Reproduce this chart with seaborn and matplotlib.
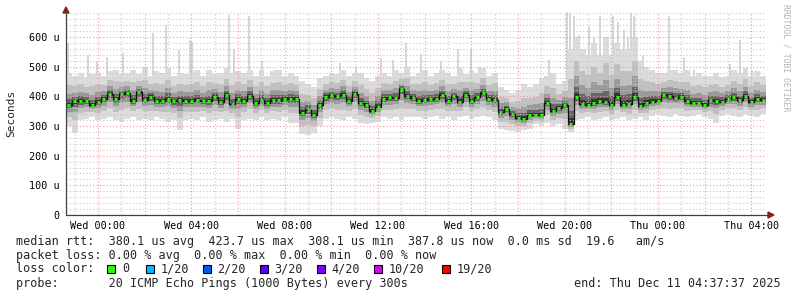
import numpy as np
import pandas as pd
import matplotlib
matplotlib.use("Agg")
import matplotlib.pyplot as plt
from matplotlib.patches import Rectangle, Polygon
from matplotlib.lines import Line2D
import seaborn as sns

# ---------------- data (hours relative to Wed 00:00, 15-min steps) ----------------
START_H = -1.373   # Tue 22:37:37
END_H = 28.627     # Thu 04:37:37
STEP_H = 0.25

median_us = [
    372, 383, 383, 383, 370, 380, 391, 408, 391, 408,
    411, 385, 414, 389, 398, 383, 383, 392, 383, 386,
    385, 383, 388, 383, 384, 398, 380, 403, 374, 390,
    384, 402, 378, 388, 378, 386, 386, 391, 392, 392,
    345, 355, 338, 370, 398, 403, 400, 406, 385, 408,
    378, 370, 350, 365, 392, 396, 395, 424, 402, 395,
    385, 388, 390, 392, 405, 385, 400, 382, 405, 385,
    396, 410, 392, 388, 348, 358, 340, 328, 324, 338,
    338, 336, 378, 352, 360, 370, 308, 398, 375, 372,
    378, 383, 380, 372, 398, 372, 375, 398, 368, 378,
    382, 385, 403, 400, 395, 398, 385, 378, 378, 370,
    386, 384, 382, 390, 396, 386, 400, 380, 390, 388,
]
low_us = [
    300, 276, 320, 325, 330, 320, 325, 330, 320, 315,
    325, 330, 320, 325, 320, 330, 325, 315, 320, 285,
    320, 325, 320, 330, 315, 320, 325, 315, 325, 289,
    320, 325, 320, 330, 320, 325, 320, 330, 310, 310,
    272, 270, 275, 300, 325, 330, 325, 320, 330, 325,
    310, 305, 311, 315, 330, 325, 330, 320, 330, 330,
    330, 325, 330, 335, 325, 330, 320, 330, 335, 325,
    330, 335, 330, 320, 290, 285, 283, 280, 285, 290,
    305, 300, 310, 300, 305, 290, 278, 320, 325, 330,
    320, 325, 330, 320, 325, 330, 320, 325, 330, 320,
    335, 340, 335, 330, 340, 335, 330, 335, 340, 330,
    325, 311, 335, 340, 335, 330, 340, 335, 330, 340,
]
high_us = [
    480, 470, 480, 465, 475, 480, 470, 485, 490, 475,
    480, 490, 475, 500, 470, 485, 480, 495, 470, 480,
    475, 480, 490, 470, 490, 475, 480, 495, 480, 485,
    480, 490, 470, 490, 470, 485, 489, 470, 480, 470,
    450, 440, 430, 460, 470, 480, 475, 490, 470, 480,
    480, 460, 450, 470, 480, 470, 490, 480, 500, 470,
    480, 490, 470, 480, 490, 480, 470, 495, 475, 490,
    480, 495, 470, 480, 430, 420, 410, 420, 440, 430,
    440, 460, 470, 480, 440, 450, 560, 600, 560, 540,
    580, 540, 600, 540, 580, 560, 560, 600, 520, 500,
    490, 480, 480, 490, 490, 480, 490, 470, 480, 470,
    470, 480, 465, 470, 490, 480, 495, 470, 485, 470,
]
spike_hours = [
    -1.29, -0.43, -0.04, 0.39, 1.07, 2.36, 2.91, 3.47, 3.94, 4.03,
    5.62, 5.83, 6.47, 7.03, 7.59, 10.37, 10.89, 11.06, 12.13, 12.64,
    13.20, 13.84, 14.70, 15.43, 15.99, 16.33, 19.33, 20.10, 20.23, 20.40,
    20.62, 20.87, 21.05, 21.26, 21.52, 21.82, 22.07, 22.29, 22.55, 22.72,
    22.85, 22.98, 23.06, 23.36, 24.47, 25.11, 25.54, 27.09, 27.52, 28.03,
]
spike_top_us = [
    579, 540, 515, 532, 545, 612, 640, 555, 589, 583,
    673, 561, 672, 520, 489, 511, 460, 500, 530, 522,
    578, 544, 520, 561, 561, 500, 522, 685, 680, 672,
    605, 560, 633, 600, 672, 560, 672, 650, 622, 600,
    680, 672, 561, 540, 672, 528, 489, 510, 589, 489,
]

xtick_hours = [0, 4, 8, 12, 16, 20, 24, 28]
xtick_labels = ["Wed 00:00", "Wed 04:00", "Wed 08:00", "Wed 12:00",
                "Wed 16:00", "Wed 20:00", "Thu 00:00", "Thu 04:00"]
ytick_values = [0, 100, 200, 300, 400, 500, 600]
ytick_labels = ["0", "100 u", "200 u", "300 u", "400 u", "500 u", "600 u"]
y_top_us = 684

loss_labels = ["0", "1/20", "2/20", "3/20", "4/20", "10/20", "19/20"]
loss_colors = ["#26ff00", "#00b8ff", "#0059ff", "#5e00ff", "#7e00ff", "#dd00ff", "#ff0000"]

line_median = "median rtt:  380.1 us avg  423.7 us max  308.1 us min  387.8 us now  0.0 ms sd  19.6   am/s"
line_loss = "packet loss: 0.00 % avg  0.00 % max  0.00 % min  0.00 % now"
line_color_head = "loss color:"
line_probe = "probe:       20 ICMP Echo Pings (1000 Bytes) every 300s"
line_end = "end: Thu Dec 11 04:37:37 2025"
y_title = "Seconds"
watermark = "RRDTOOL / TOBI OETIKER"

# ---------------- figure ----------------
W, H = 797, 297
sns.set_theme(style="white")
plt.rcParams["font.family"] = ["DejaVu Sans Mono", "DejaVu Sans"]

fig = plt.figure(figsize=(W / 100, H / 100), dpi=100)
fig.patch.set_facecolor("white")

def P(x, y):
    return (x / W, 1 - y / H)

AX_L, AX_R, AX_B, AX_T = 66, 766, 215, 12
ax = fig.add_axes([AX_L / W, 1 - AX_B / H, (AX_R - AX_L) / W, (AX_B - AX_T) / H])
ax.set_facecolor("white")

n = len(median_us)
t_center = START_H + (np.arange(n) + 0.5) * STEP_H
t_edges = START_H + np.arange(n + 1) * STEP_H
df = pd.DataFrame({"t": t_center, "median": median_us, "low": low_us, "high": high_us})

med = np.asarray(median_us, float)
lo = np.asarray(low_us, float)
hi = np.asarray(high_us, float)

# thin outlier spikes
med_at_spike = np.interp(spike_hours, t_center, med)
ax.vlines(spike_hours, med_at_spike, spike_top_us, colors="#d6d6d6", lw=1.4, zorder=0.9)

# smoke bands
bands = [(1.0, "#dcdcdc"), (0.6, "#c0c0c0"), (0.34, "#9a9a9a"), (0.17, "#666666"), (0.07, "#343434")]
for f, c in bands:
    lower = med - (med - lo) * f
    upper = med + (hi - med) * f
    ax.fill_between(t_edges, np.append(lower, lower[-1]), np.append(upper, upper[-1]),
                    step="post", color=c, lw=0, zorder=1)

# median
sns.lineplot(data=df, x="t", y="median", drawstyle="steps-mid", color="#111111",
             lw=0.9, ax=ax, zorder=3, errorbar=None, legend=False)
ax.hlines(df["median"], df["t"] - 0.065, df["t"] + 0.065, colors=loss_colors[0], lw=2.1, zorder=4)

ax.set_xlim(START_H, END_H)
ax.set_ylim(0, y_top_us)
ax.set_xlabel("")
ax.set_ylabel("")

# ticks & grid
major_x = np.arange(0, 29, 2)
ax.set_xticks(major_x)
ax.set_xticklabels([xtick_labels[xtick_hours.index(h)] if h in xtick_hours else "" for h in major_x])
ax.set_xticks(np.arange(-1, 29, 1), minor=True)
ax.set_yticks(ytick_values)
ax.set_yticklabels(ytick_labels)
ax.set_yticks(np.arange(0, y_top_us, 20), minor=True)

ax.tick_params(axis="both", which="major", direction="out", length=2, width=0.8,
               color="#d04040", labelsize=7.3, labelcolor="black", pad=2.5)
ax.tick_params(axis="both", which="minor", direction="out", length=1.5, width=0.7, color="#999999")
ax.set_axisbelow(False)
ax.grid(which="major", color="#e89a9a", lw=0.8, ls=(0, (1, 2)))
ax.grid(which="minor", color="#c8c8c8", lw=0.8, ls=(0, (1, 2)))
for lbl in ax.get_xticklabels() + ax.get_yticklabels():
    lbl.set_fontfamily("DejaVu Sans Mono")

for s in ax.spines.values():
    s.set_visible(False)

# axis lines with arrows
fig.add_artist(Line2D([P(66, 215)[0], P(770, 215)[0]], [P(66, 215)[1], P(770, 215)[1]],
                      color="#404040", lw=0.9, transform=fig.transFigure))
fig.add_artist(Line2D([P(66, 215)[0], P(66, 10)[0]], [P(66, 215)[1], P(66, 10)[1]],
                      color="#404040", lw=0.9, transform=fig.transFigure))
fig.add_artist(Polygon([P(66, 7), P(63, 13), P(69, 13)], closed=True, color="#9a1a1a",
                       transform=fig.transFigure))
fig.add_artist(Polygon([P(774, 215), P(768, 212), P(768, 218)], closed=True, color="#9a1a1a",
                       transform=fig.transFigure))

# y title and watermark
fig.text(*P(11, 113), y_title, rotation=90, ha="center", va="center", fontsize=8)
fig.text(*P(786, 4), watermark, rotation=270, ha="center", va="top", fontsize=5.9, color="#b4b4b4")

# legend block
LX = 16
fs = 8.5
fig.text(*P(LX, 244.5), line_median, fontsize=fs, va="baseline", ha="left")
fig.text(*P(LX, 258.5), line_loss, fontsize=fs, va="baseline", ha="left")
fig.text(*P(LX, 272.5), line_color_head, fontsize=fs, va="baseline", ha="left")
fig.text(*P(LX, 286.7), line_probe, fontsize=fs, va="baseline", ha="left")
fig.text(*P(781, 286.7), line_end, fontsize=fs, va="baseline", ha="right")

box_x = [107.3, 145.7, 202.7, 260.0, 316.7, 374.0, 442.3]
for bx, lab, col in zip(box_x, loss_labels, loss_colors):
    x0, y0 = P(bx, 273)
    fig.add_artist(Rectangle((x0, y0), 8 / W, 8 / H, transform=fig.transFigure,
                             facecolor=col, edgecolor="black", lw=0.8))
    fig.text(*P(bx + 14.5, 272.5), lab, fontsize=fs, va="baseline", ha="left")

fig.savefig("out.png", dpi=100, facecolor="white")
